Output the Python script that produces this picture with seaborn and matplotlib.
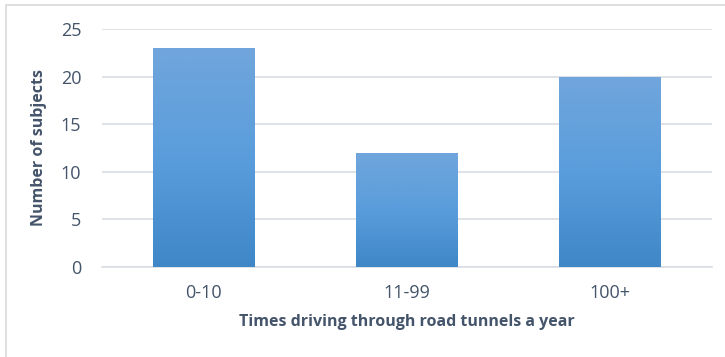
import numpy as np
import pandas as pd
import seaborn as sns
import matplotlib.pyplot as plt
from matplotlib.patches import Rectangle
from matplotlib.colors import LinearSegmentedColormap

categories = ["0-10", "11-99", "100+"]
subjects = [23, 12, 20]

sns.set_theme(style="white")
plt.rcParams["font.family"] = ["Open Sans", "DejaVu Sans"]

text_color = "#44546a"
grid_color = "#d9dde3"

data = pd.DataFrame({"Category": categories, "Subjects": subjects})

fig = plt.figure(figsize=(7.25, 3.57), dpi=100)
ax = fig.add_axes([0.1407, 0.2521, 0.8413, 0.6667])

sns.barplot(data=data, x="Category", y="Subjects", color="#5b9bd5",
            width=0.5, ax=ax, zorder=2)

# Excel-like vertical gradient on each bar
grad = LinearSegmentedColormap.from_list("g", ["#3f87c7", "#5a9ddc", "#70a6dc"])
for p in ax.patches:
    x0, y0 = p.get_x(), p.get_y()
    w, h = p.get_width(), p.get_height()
    im = ax.imshow(np.linspace(0, 1, 256).reshape(-1, 1), cmap=grad,
                   extent=(x0, x0 + w, y0, y0 + h), origin="lower",
                   aspect="auto", zorder=3)
    im.set_clip_path(p)
    p.set_edgecolor("none")

ax.set_xlim(-0.5, 2.5)
ax.set_ylim(0, 25)
ax.set_yticks([0, 5, 10, 15, 20, 25])
ax.yaxis.grid(True, color=grid_color, lw=1.2, zorder=0)
ax.set_axisbelow(True)
for s in ["top", "right", "left"]:
    ax.spines[s].set_visible(False)
ax.spines["bottom"].set_color(grid_color)
ax.spines["bottom"].set_linewidth(1.2)
ax.tick_params(axis="both", length=0, labelsize=13, labelcolor=text_color)
ax.tick_params(axis="y", pad=15)
ax.tick_params(axis="x", pad=12)

ax.set_xlabel("Times driving through road tunnels a year", fontsize=11.5,
              fontweight="bold", color=text_color, labelpad=9)
ax.set_ylabel("Number of subjects", fontsize=11.5, fontweight="bold",
              color=text_color, labelpad=10)

fig.patches.append(Rectangle((6 / 725, -0.1), 1.2, 1 - 5 / 357 + 0.1,
                             transform=fig.transFigure, fill=False,
                             edgecolor="#d9d9d9", lw=1.2))

fig.savefig("out.png", dpi=100)
